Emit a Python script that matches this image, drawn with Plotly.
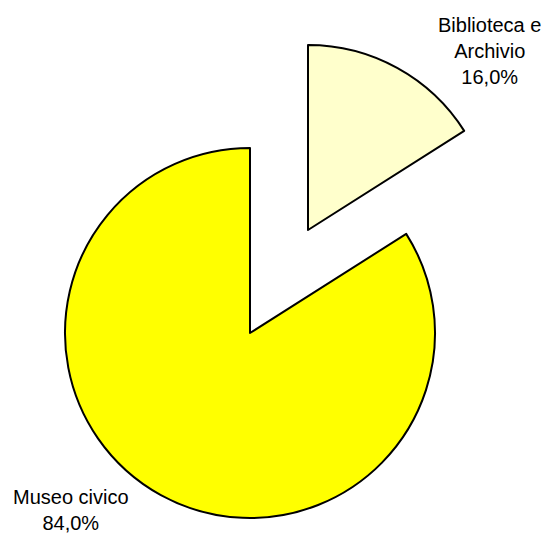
import plotly.graph_objects as go

labels = ["Biblioteca e Archivio", "Museo civico"]
label_lines = ["Biblioteca e<br>Archivio", "Museo civico"]
values = [16.0, 84.0]
colors = ["#FFFFCC", "#FFFF00"]

W, H = 550, 534
OFF = 8  # page body margin
R = 185
# centres (px) of the exploded slice and of the main pie
centres = [(308, 230), (250, 333)]

fig = go.Figure()
for i, (cx, cy) in enumerate(centres):
    cx -= OFF
    cy -= OFF
    slice_colors = ["rgba(0,0,0,0)"] * len(values)
    slice_colors[i] = colors[i]
    widths = [0] * len(values)
    widths[i] = 2
    fig.add_trace(go.Pie(
        labels=labels, values=values, sort=False, direction="clockwise",
        rotation=0, textinfo="none", hoverinfo="skip", showlegend=False,
        marker=dict(colors=slice_colors, line=dict(color="black", width=widths)),
        domain=dict(x=[(cx - R) / W, (cx + R) / W],
                    y=[(H - cy - R) / H, (H - cy + R) / H]),
    ))

label_pos = [(489, 51), (71, 510)]
for i, (x, y) in enumerate(label_pos):
    fig.add_annotation(
        x=(x - OFF) / W, y=1 - (y - OFF) / H, xref="paper", yref="paper",
        xanchor="center", yanchor="middle",
        text=f"{label_lines[i]}<br>{values[i]:.1f}%".replace(".", ","),
        showarrow=False, align="center",
        font=dict(family="Liberation Sans, Arial", size=20, color="black"),
    )

fig.update_layout(width=W, height=H, margin=dict(l=0, r=0, t=0, b=0),
                  paper_bgcolor="white", plot_bgcolor="white")
fig.write_html("out.html")
